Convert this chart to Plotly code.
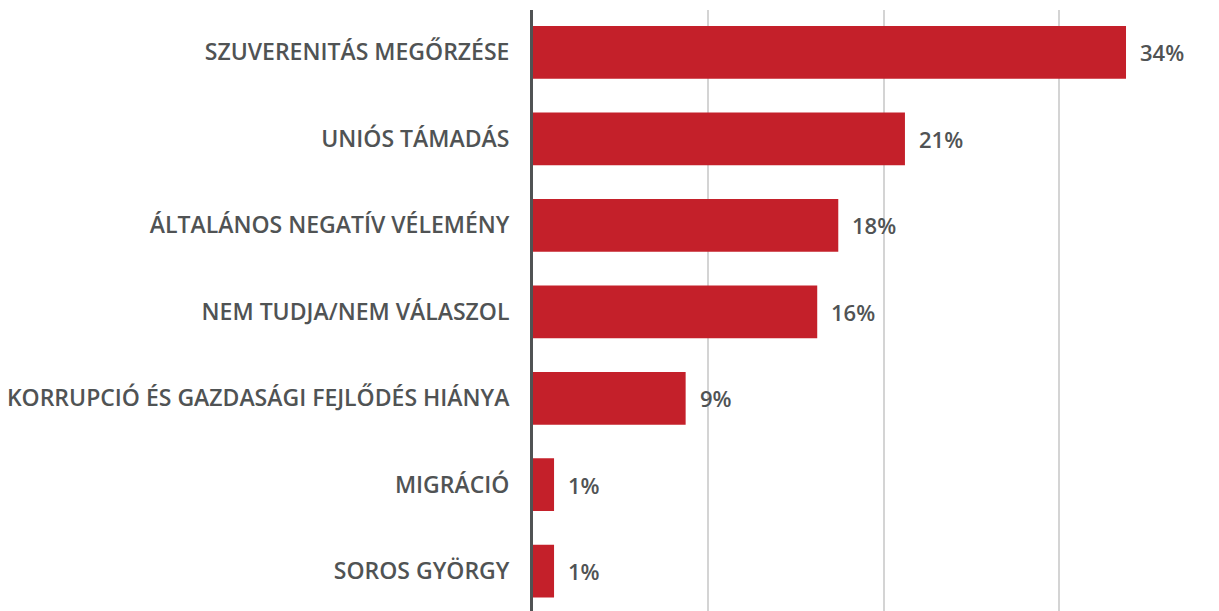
import plotly.graph_objects as go

categories = [
    "SZUVERENITÁS MEGŐRZÉSE",
    "UNIÓS TÁMADÁS",
    "ÁLTALÁNOS NEGATÍV VÉLEMÉNY",
    "NEM TUDJA/NEM VÁLASZOL",
    "KORRUPCIÓ ÉS GAZDASÁGI FEJLŐDÉS HIÁNYA",
    "MIGRÁCIÓ",
    "SOROS GYÖRGY",
]
values = [33.8, 21.2, 17.4, 16.2, 8.7, 1.2, 1.2]
labels = ["34%", "21%", "18%", "16%", "9%", "1%", "1%"]

TEXT = "#505354"
FONT = "Open Sans"

fig = go.Figure(go.Bar(
    x=values, y=categories, orientation="h",
    marker=dict(color="#c4202a", line=dict(width=0)),
    hoverinfo="skip",
))

for c, v, t in zip(categories, values, labels):
    fig.add_annotation(x=v, y=c, text=t, showarrow=False, xanchor="left",
                       xshift=12, font=dict(family=FONT, size=22, color=TEXT, weight=600))

fig.update_layout(
    width=1211, height=603,
    margin=dict(l=525, r=0, t=2, b=0),
    plot_bgcolor="white", paper_bgcolor="white",
    bargap=0.39,
    showlegend=False,
    xaxis=dict(range=[0, 39.1], dtick=10, showgrid=True, gridcolor="#d4d4d4",
               gridwidth=1.5, zeroline=False, showticklabels=False, showline=False),
    yaxis=dict(categoryorder="array", categoryarray=categories,
               range=[6.46, -0.49], showline=True, linecolor="#505354", linewidth=3,
               ticklabelstandoff=16, showgrid=False, zeroline=False,
               tickfont=dict(family=FONT, size=23, color=TEXT, weight=600)),
)

fig.write_html("out.html")
